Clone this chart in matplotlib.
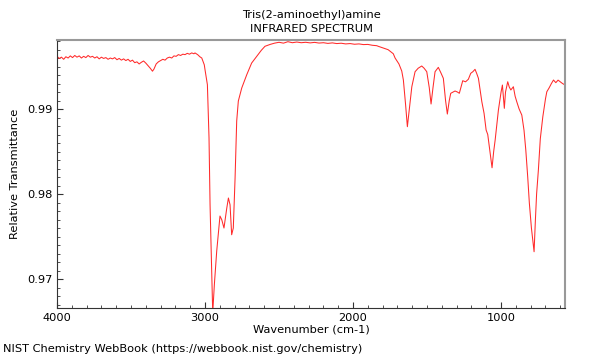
import matplotlib
matplotlib.use("Agg")
import matplotlib.pyplot as plt
from matplotlib.ticker import MultipleLocator

compound = "Tris(2-aminoethyl)amine"
source = "NIST Chemistry WebBook (https://webbook.nist.gov/chemistry)"

# wavenumber (cm-1) and relative transmittance
wavenumber = [
    4000, 3985, 3970, 3955, 3940, 3925, 3910, 3895, 3880, 3865, 3850, 3835,
    3820, 3805, 3790, 3775, 3760, 3745, 3730, 3715, 3700, 3685, 3670, 3655,
    3640, 3625, 3610, 3595, 3580, 3565, 3550, 3535, 3520, 3505, 3490, 3475,
    3460, 3445, 3430, 3415, 3400, 3385, 3370, 3355, 3345, 3330, 3315, 3300,
    3285, 3270, 3255, 3240, 3225, 3210, 3195, 3180, 3165, 3150, 3135, 3120,
    3105, 3090, 3075, 3068, 3050, 3035, 3022, 3005, 3000, 2984, 2973, 2966,
    2955, 2948, 2937, 2921, 2899, 2887, 2872, 2853, 2842, 2831, 2820, 2809,
    2797, 2786, 2775, 2752, 2718, 2685, 2651, 2620, 2595, 2560, 2530, 2500,
    2470, 2440, 2410, 2380, 2350, 2320, 2290, 2260, 2230, 2200, 2170, 2140,
    2110, 2080, 2050, 2020, 1990, 1960, 1930, 1900, 1870, 1840, 1830, 1800,
    1763, 1728, 1716, 1690, 1671, 1660, 1645, 1633, 1620, 1603, 1581, 1560,
    1536, 1520, 1502, 1485, 1473, 1460, 1446, 1424, 1405, 1390, 1375, 1363,
    1350, 1340, 1311, 1295, 1282, 1259, 1240, 1221, 1205, 1190, 1176, 1165,
    1153, 1130, 1115, 1101, 1090, 1078, 1068, 1061, 1050, 1040, 1018, 1000,
    991, 985, 978, 970, 955, 945, 934, 917, 905, 894, 878, 860, 845, 833,
    820, 809, 795, 785, 777, 768, 760, 748, 735, 718, 700, 691, 675, 660,
    646, 630, 615, 601, 585, 567,
]
transmittance = [
    0.99620, 0.99595, 0.99610, 0.99585, 0.99615, 0.99600, 0.99625, 0.99605,
    0.99630, 0.99610, 0.99625, 0.99600, 0.99620, 0.99605, 0.99630, 0.99610,
    0.99620, 0.99600, 0.99615, 0.99590, 0.99610, 0.99595, 0.99605, 0.99585,
    0.99600, 0.99590, 0.99605, 0.99580, 0.99595, 0.99575, 0.99590, 0.99570,
    0.99585, 0.99560, 0.99575, 0.99545, 0.99555, 0.99530, 0.99550, 0.99565,
    0.99540, 0.99510, 0.99480, 0.99445, 0.99470, 0.99530, 0.99555, 0.99570,
    0.99585, 0.99575, 0.99600, 0.99610, 0.99600, 0.99625, 0.99620, 0.99640,
    0.99630, 0.99645, 0.99640, 0.99655, 0.99645, 0.99660, 0.99650, 0.99660,
    0.99640, 0.99615, 0.99600, 0.99520, 0.99462, 0.99286, 0.98659, 0.97874,
    0.97090, 0.96600, 0.96933, 0.97329, 0.97741, 0.97698, 0.97600, 0.97835,
    0.97953, 0.97874, 0.97521, 0.97600, 0.98188, 0.98859, 0.99094, 0.99247,
    0.99404, 0.99541, 0.99620, 0.99690, 0.99738, 0.99760, 0.99775, 0.99785,
    0.99775, 0.99792, 0.99780, 0.99788, 0.99780, 0.99785, 0.99778, 0.99784,
    0.99776, 0.99780, 0.99772, 0.99778, 0.99770, 0.99774, 0.99766, 0.99770,
    0.99762, 0.99766, 0.99758, 0.99760, 0.99750, 0.99745, 0.99738, 0.99720,
    0.99698, 0.99650, 0.99600, 0.99530, 0.99447, 0.99341, 0.99050, 0.98792,
    0.99000, 0.99262, 0.99439, 0.99480, 0.99506, 0.99480, 0.99439, 0.99250,
    0.99059, 0.99250, 0.99439, 0.99490, 0.99420, 0.99361, 0.99100, 0.98941,
    0.99100, 0.99185, 0.99212, 0.99200, 0.99185, 0.99333, 0.99320, 0.99350,
    0.99420, 0.99440, 0.99467, 0.99420, 0.99361, 0.99086, 0.98950, 0.98753,
    0.98700, 0.98538, 0.98400, 0.98309, 0.98500, 0.98635, 0.98988, 0.99200,
    0.99282, 0.99150, 0.99008, 0.99200, 0.99321, 0.99260, 0.99224, 0.99262,
    0.99150, 0.99086, 0.99000, 0.98929, 0.98750, 0.98518, 0.98200, 0.97894,
    0.97600, 0.97450, 0.97321, 0.97700, 0.98000, 0.98282, 0.98650, 0.98909,
    0.99120, 0.99203, 0.99250, 0.99300, 0.99341, 0.99310, 0.99340, 0.99321,
    0.99300, 0.99282,
]

fig = plt.figure(figsize=(6, 3.6), dpi=100)
ax = fig.add_axes([0.095, 0.1444, 0.8467, 0.7445])

ax.plot(wavenumber, transmittance, color="#ff2a2a", linewidth=0.75)

ax.set_xlim(4000, 568)
ax.set_ylim(0.96659, 0.99812)
ax.set_xticks([4000, 3000, 2000, 1000])
ax.xaxis.set_minor_locator(MultipleLocator(100))
ax.set_yticks([0.97, 0.98, 0.99])
ax.yaxis.set_minor_locator(MultipleLocator(0.001))
ax.tick_params(which="both", direction="in", labelsize=8.2, colors="#333333",
               labelcolor="black")
ax.tick_params(which="major", length=4)
ax.tick_params(which="minor", length=2.5)

for side in ["left", "bottom"]:
    ax.spines[side].set_color("#333333")
for side in ["top", "right"]:
    ax.spines[side].set_color("#999999")
    ax.spines[side].set_linewidth(1.5)

ax.set_xlabel("Wavenumber (cm-1)", fontsize=8.2, labelpad=1)
ax.set_ylabel("Relative Transmittance", fontsize=8.2, labelpad=5)
ax.set_title(compound + "\nINFRARED SPECTRUM", fontsize=8.2, pad=6,
             linespacing=1.45)
fig.text(0.005, 0.022, source, fontsize=8.2)

fig.savefig("out.png")
